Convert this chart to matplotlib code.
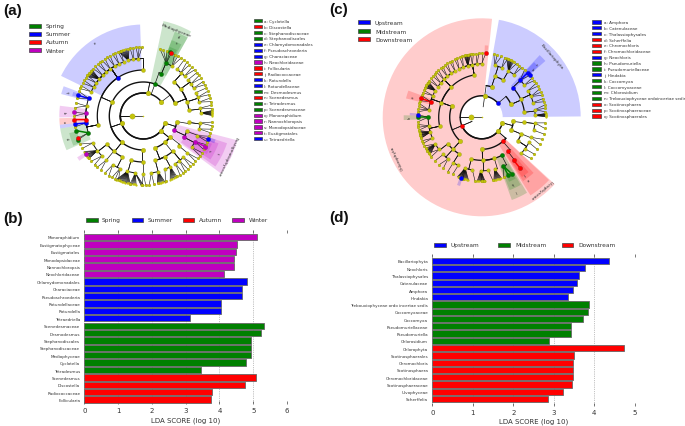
import matplotlib
matplotlib.use("Agg")
import matplotlib.pyplot as plt
from matplotlib.patches import Wedge, Rectangle
import numpy as np

W, H = 685, 427
SEASON = {"Spring": "#008000", "Summer": "#0000ff", "Autumn": "#ff0000", "Winter": "#bf00bf"}
G, B, R, P = "#008000", "#0000ff", "#ff0000", "#bf00bf"
YEL = "#c4c40c"
INK = "#111111"

# ---- bar data
names_b = ["Monoraphidium", "Eustigmatophyceae", "Eustigmatales", "Monodopsidaceae", "Nannochloropsis",
           "Neochloridaceae", "Chlamydomonadales", "Characiaceae", "Pseudoschroederia", "Rotundellaceae",
           "Rotundella", "Tetraedriella", "Scenedesmaceae", "Desmodesmus", "Stephanodiscales",
           "Stephanodiscaceae", "Mediophyceae", "Cyclotella", "Tetradesmus", "Scenedesmus", "Discostella",
           "Radiococcaceae", "Follicularia"]
vals_b = [5.11, 4.51, 4.49, 4.42, 4.42, 4.14, 4.81, 4.67, 4.67, 4.04, 4.04, 3.14, 5.31, 5.22, 4.93, 4.93, 4.93,
          4.79, 3.45, 5.07, 4.76, 3.77, 3.75]
cols_b = [P] * 6 + [B] * 6 + [G] * 7 + [R] * 4

names_d = ["Bacillariophyta", "Neochloris", "Thalassiophysales", "Catenulaceae", "Amphora", "Hindakia",
           "Trebouxiophyceae ordo incertae sedis", "Coccomyxaceae", "Coccomyxa", "Pseudomuriellaceae",
           "Pseudomuriella", "Chlorosidium", "Chlorophyta", "Scotinosphaerales", "Chromochloris", "Scotinosphaera",
           "Chromochloridaceae", "Scotinosphaeraceae", "Ulvophyceae", "Scherffelia"]
vals_d = [4.36, 3.77, 3.63, 3.57, 3.48, 3.36, 3.88, 3.85, 3.72, 3.42, 3.42, 2.89, 4.73, 3.50, 3.48, 3.48, 3.48,
          3.45, 3.24, 2.85]
cols_d = [B] * 6 + [G] * 6 + [R] * 8

# ---- side legends of the cladograms
keys_a = ["a: Cyclotella", "b: Discostella", "c: Stephanodiscaceae", "d: Stephanodiscales", "e: Chlamydomonadales",
          "f: Pseudoschroederia", "g: Characiaceae", "h: Neochloridaceae", "i: Follicularia", "j: Radiococcaceae",
          "k: Rotundella", "l: Rotundellaceae", "m: Desmodesmus", "n: Scenedesmus", "o: Tetradesmus",
          "p: Scenedesmaceae", "q: Monoraphidium", "r: Nannochloropsis", "s: Monodopsidaceae", "t: Eustigmatales",
          "u: Tetraedriella"]
keycols_a = [G, R, G, G, B, B, B, P, R, R, B, B, G, R, G, G, P, P, P, P, B]
keys_c = ["a: Amphora", "b: Catenulaceae", "c: Thalassiophysales", "d: Scherffelia", "e: Chromochloris",
          "f: Chromochloridaceae", "g: Neochloris", "h: Pseudomuriella", "i: Pseudomuriellaceae", "j: Hindakia",
          "k: Coccomyxa", "l: Coccomyxaceae", "m: Chlorosidium", "n: Trebouxiophyceae ordoincertae sedis",
          "o: Scotinosphaera", "p: Scotinosphaeraceae", "q: Scotinosphaerales"]
keycols_c = [B, B, B, R, R, R, B, G, G, B, G, G, G, G, R, R, R]

# ---- cladogram (a): node angles per ring, (angle, parent angle) for inner rings
radii_a = [11.5, 23, 34, 46, 57.5, 69]
a_l1 = [(180, 180)]
a_l2 = [(79, 180), (38, 180), (-18, 180), (-40, 180), (199, 180)]
a_l3 = [(70, 79), (156, 79), (156, 199), (22, 38), (22, 70), (-9.5, -18), (-25, -18), (-38, -40), (-51, -40), (231, 199),
        (269, 199), (-69, -40)]
a_l4 = [(66.8, 70), (48, 22), (36, 22), (18, 22), (7, 22), (-8, -9.5), (-19.5, -25), (-27.5, -25), (-40, -38), (-50, -51),
        (90, 156), (124, 156), (191, 156), (218, 231), (230, 231), (243, 231), (254.6, 269), (270, 269), (285, -69),
        (298, -69), (-50, -69)]
a_l5 = [66.4, 60, 54, 49, 44, 39, 34, 29, 24, 19, 14, 8, 3, -7, -13, -20, -26.4, -33, -40, -46, -51, -56, 298, 292, 285, 278,
        270, 262, 254, 246, 238, 230, 224, 217, 208, 197, 187, 183.6, 177.4, 170, 162.2, 155, 150, 145, 140, 135, 130, 125,
        120, 115, 110, 105, 100, 95]
a_l6 = [76, 73, 70, 67.5, 66, 63, 60, 57, 54, 51, 48, 45, 42, 39, 36, 33, 30, 27, 24, 21, 18, 15, 12, 9, 6,
        -5, -8, -11, -14, -17, -19.5, -22, -24.5, -26.3, -29, -32, -35, -38, -41, -44, -47, -50, -53,
        305, 302, 299, 289, 282, 279, 275, 272, 269, 259, 249, 246, 243, 240, 236, 232, 228, 225, 221, 218,
        213.5, 208, 204, 200, 198.8, 192.2, 189, 186.6, 183, 180, 177, 173, 169, 165, 162.4, 159, 156.5, 154, 151.5, 149, 146.5,
        144, 141.5, 139, 136.5, 134, 131.5, 129, 126.5, 124, 121.5, 119, 116.5, 114, 111.5, 109, 101, 98.5, 96, 93.5, 91]
a_fans = [(3, [4.5, 3.9, 3.3, 2.7, 2.1, 1.5, 0.9, 0.3]),
          (105, [111, 110, 109, 108, 107, 106, 105, 104, 103, 102]),
          (140, [145, 144, 143, 142, 141, 140, 139, 138]),
          (254, [259, 258, 257, 256, 255, 254, 253, 252, 251, 250, 249, 248, 247]),
          (262, [270, 269, 268, 264, 263, 262, 261, 260]),
          (285, [288, 287, 286, 285, 284, 283, 282]),
          (298, [298, 297, 296, 295, 294, 293]),
          (217, [218, 217, 216, 215, 214, 212, 211])]
a_hi = {(3, 70): G, (4, 66.8): G, (5, 66.4): G, (6, 66): R, (6, 67.5): G, (3, -25): P, (4, -27.5): P, (5, -26.4): P, (6, -26.3): P,
        (6, -19.5): B, (4, 124): B, (6, 162.4): B, (5, 162.2): B, (5, 177.4): P, (6, 183): R, (5, 183.6): R, (6, 186.6): B,
        (5, 187): B, (6, 192.2): G, (5, 197): G, (6, 200): G, (6, 198.8): R, (6, 213.5): P, (6, 177): P}
a_colored = [162.4, 183, 186.6, 192.2, -26.3]
a_wedges = [(92, 154, 46, 91.5, B), (60.5, 78, 34, 97, G), (60.5, 69.5, 46, 90, G), (62, 69.5, 57.5, 81, G),
            (63, 69, 68, 74, G), (-36.5, -14.5, 34, 97, P), (-35, -18, 46, 88, P), (-33, -20, 57.5, 80, P),
            (-31, -22, 68, 74, P), (-21, -18, 68, 76, B), (159.5, 165, 57.5, 85, B), (161, 164, 68, 74, B),
            (173, 181, 57.5, 84, P), (181.5, 186, 57.5, 84, R), (186, 188.5, 57.5, 84, B),
            (188.5, 204, 57.5, 84, G), (193, 203, 68, 76, G), (212, 215, 68, 78, P)]
a_letters = [(123, 88, "e"), (66, 87, "d"), (66, 80, "c"), (-26, 82, "t"), (-27, 74, "s"), (162, 78, "k"), (177, 78, "q"),
             (184, 78, "n"), (196, 78, "p")]
a_names = [(69, 92, "Mediophyceae"), (-25, 93, "Eustigmatophyceae")]

# ---- cladogram (c)
radii_c = [10.5, 21.5, 32, 43, 53.5, 64]
c_l1 = [(180, 180)]
c_l2 = [(82, 180), (40.6, 82), (-15, 203), (-41, 203), (203, 180)]
c_l3 = [(72, 82), (23.7, 40.6), (160, 203), (-7.4, -15), (-23, -15), (-48.8, -41), (271, -41), (228, 203)]
c_l4 = [(43.8, 23.7), (6.7, 23.7), (60, 72), (72, 72), (25, 23.7), (192, 160), (135, 160), (100, 160), (160, 160),
        (-6.7, -7.4), (-22.6, -23), (-33, -23), (-52.5, -48.8), (-62.4, 271), (256, 271), (287, 271), (272, 271),
        (228, 228), (218, 228), (238, 228)]
c_l5 = [76, 68, 60, 53, 44, 37, 30, 23, 16, 8, 2, -6, -14, -22, -28, -36, -42, -53.3, -66, 284, 277, 269, 260, 252, 244,
        238, 231, 224, 217, 210, 203, 196, 189, 180, 172, 163, 156, 150, 145, 140, 135, 130, 125, 120, 115, 110, 105, 100, 95, 90]
c_l6 = [86.4, 79, 76, 72, 69, 66, 63, 60, 57, 54, 51, 48, 44.2, 41, 38, 35, 32, 29, 26, 23, 20, 17, 14, 11, 8, 5,
        -5, -10, -15, -20, -25, -30, -35, -40, -53, -65.4, -62,
        290, 280, 272, 270, 264, 253, 251.2, 249, 243, 238, 233, 228, 223, 218, 214, 211.5, 209, 206.5, 204, 201.5, 199, 196.5,
        194, 191.5, 189, 186.5, 184, 180, 177.6, 175, 172.5, 170, 167.5, 165, 162.7, 160, 157.5, 155, 152.5, 150, 147.5, 145,
        142.5, 140, 137.5, 135, 132.5, 130, 127.5, 125, 122.5, 120, 117.5, 115, 112.5, 110, 107.5, 105, 102.5, 100, 97.5,
        95, 92.5, 90]
c_fans = [(2, [3.5, 3, 2.5, 2, 1.5, 1, 0.5]), (60, [67, 66, 65, 64, 63, 62, 61]), (105, [106, 105, 104, 103, 102, 101, 100]),
          (150, [152, 151, 150, 149, 148, 147, 146]), (196, [199, 198, 197, 196, 195, 194, 193, 192]),
          (210, [216, 215, 214, 213, 212, 211, 210]), (252, [258, 257, 256, 255, 254, 253, 252, 251, 250, 249, 248]),
          (269, [273, 272, 271, 270, 269, 268, 267, 266]), (284, [288, 287, 286, 285, 284, 283, 282, 281])]
c_hi = {(2, 203): R, (2, 40.6): B, (4, 43.8): B, (5, 44): B, (6, 44.2): B, (6, 41): B, (3, -48.8): R, (4, -52.5): R, (5, -53.3): R,
        (6, -53): R, (4, -62.4): G, (5, -66): G, (6, -65.4): G, (6, -62): G, (6, 251.2): B, (6, 86.4): R, (6, 162.7): R,
        (5, 163): R, (6, 177.6): B, (6, 180): G, (5, 180): G}
c_colored = [44.2, -53, -65.4, -62, 162.7, 180]
c_wedges = [(0.5, 80, 21, 99, B), (84, 317.5, 21, 99, R), (-58, -43, 32, 92, R), (-57, -47, 43, 76, R), (-56, -49.5, 53.5, 72, R),
            (-70, -59, 43, 88, G), (-69, -60, 53.5, 78, G), (-67, -61, 64, 70, G), (41.5, 47, 43, 85, B), (42, 46.5, 53.5, 76, B),
            (160, 166, 53.5, 78, R), (176.5, 178.5, 64, 72, B), (178.5, 182, 53.5, 78, G), (84.8, 87.5, 64, 72, R),
            (250, 252.5, 64, 72, B)]
c_letters = [(44, 70, "b"), (44, 76, "c"), (-53, 70, "f"), (-53, 76, "e"), (-65, 72, "k"), (-65, 80, "l"), (163, 72, "e"),
             (180, 72, "h")]
c_names = [(41, 93, "Bacillariophyta"), (205, 93, "Chlorophyta"), (-50, 93, "Ulvophyceae")]

fig = plt.figure(figsize=(W / 100, H / 100), dpi=100)
ov = fig.add_axes([0, 0, 1, 1])
ov.set_xlim(0, W)
ov.set_ylim(H, 0)
ov.axis("off")


def pt(cx, cy, r, a):
    t = np.deg2rad(a)
    return cx + r * np.cos(t), cy - r * np.sin(t)


def sdiff(a, b):
    return (b - a + 180) % 360 - 180


LW = {1: 0.8, 2: 1.05, 3: 1.0, 4: 0.9, 5: 0.7, 6: 0.4}
MS = {1: 3.9, 2: 3.5, 3: 3.3, 4: 3.0, 5: 2.6, 6: 2.1}


def edge(cx, cy, rp, rc, ap, ac, lvl, col):
    """radial step from the parent, then an arc on the child's ring"""
    x0, y0 = pt(cx, cy, rp, ap)
    x1, y1 = pt(cx, cy, rc, ap)
    n = max(2, int(abs(sdiff(ap, ac))) + 2)
    aa = np.linspace(ap, ap + sdiff(ap, ac), n)
    xs, ys = pt(cx, cy, rc, aa)
    ov.plot([x0, x1], [y0, y1], color=col, lw=0.5, zorder=3, solid_capstyle="round")
    ov.plot(xs, ys, color=col, lw=LW[lvl], zorder=3, solid_capstyle="round")


def draw_clado(cx, cy, radii, inner, l5, l6, fans, hi, colored, wedges, letters, tnames):
    for a0, a1, r0, r1, c in wedges:
        ov.add_patch(Wedge((cx, cy), r1, -a1, -a0, width=r1 - r0, facecolor=c, alpha=0.2, lw=0, zorder=1))
    nodes = {}
    for lvl, rows in enumerate(inner, start=1):
        for a, ap in rows:
            rp = radii[lvl - 2] if lvl > 1 else 0
            edge(cx, cy, rp, radii[lvl - 1], ap, a, lvl, INK)
            nodes[(lvl, a)] = 1
    l4 = [a for a, _ in inner[3]]
    for a in l5:
        ap = min(l4, key=lambda q: abs(sdiff(q, a)))
        edge(cx, cy, radii[3], radii[4], ap, a, 5, INK)
        nodes[(5, a)] = 1
    for a in l6:
        ap = min(l5, key=lambda q: abs(sdiff(q, a)))
        x0, y0 = pt(cx, cy, radii[4], ap)
        x1, y1 = pt(cx, cy, radii[5], a)
        strong = a in colored
        ov.plot([x0, x1], [y0, y1], color=hi[(6, a)] if strong else INK, lw=1.1 if strong else 0.4, zorder=3)
        nodes[(6, a)] = 1
    for ap, leaves in fans:
        ap = min(l5, key=lambda q: abs(sdiff(q, ap)))
        x0, y0 = pt(cx, cy, radii[4], ap)
        for a in leaves:
            x1, y1 = pt(cx, cy, radii[5], a)
            ov.plot([x0, x1], [y0, y1], color="#111111", lw=0.5, zorder=3)
            ov.plot([x1], [y1], "o", ms=1.6, color=YEL, mew=0, zorder=4)
    for (lvl, a) in nodes:
        x, y = pt(cx, cy, radii[lvl - 1], a)
        c = hi.get((lvl, a))
        ov.plot([x], [y], "o", ms=(3.2 if c else MS[lvl]), mfc=c or YEL, mec="#555500" if not c else "#222222",
                mew=0.1, zorder=6 if c else 5)
    ov.plot([cx], [cy], "o", ms=1.1, color=YEL, mew=0, zorder=5)
    for a, r, t in letters:
        x, y = pt(cx, cy, r, a)
        ov.text(x, y, t, fontsize=2.6, ha="center", va="center", color="#222222", rotation=a - 90, zorder=7)
    for a, r, t in tnames:
        x, y = pt(cx, cy, r, a)
        ov.text(x, y, t, fontsize=3.2, ha="center", va="center", color="#333333", rotation=a - 90,
                rotation_mode="anchor", zorder=7)


draw_clado(143.3, 117, radii_a, [a_l1, a_l2, a_l3, a_l4], a_l5, a_l6, a_fans, a_hi, a_colored, a_wedges, a_letters, a_names)
draw_clado(481.7, 118.3, radii_c, [c_l1, c_l2, c_l3, c_l4], c_l5, c_l6, c_fans, c_hi, c_colored, c_wedges, c_letters, c_names)


def key(x0, x1, y, h, col, label, tx, fs):
    ov.add_patch(Rectangle((x0, y - h / 2), x1 - x0, h, facecolor=col, edgecolor="#444444", lw=0.5, zorder=8))
    ov.text(tx, y, label, fontsize=fs, ha="left", va="center", color="#333333", zorder=8)


for y, n in zip([26.7, 35, 43, 51.3], SEASON):
    key(29, 40.7, y, 4.0, SEASON[n], n, 46, 4.2)
for y, n, c in zip([23, 32, 40.3], ["Upstream", "Midstream", "Downstream"], [B, G, R]):
    key(358.3, 370, y, 4.0, c, n, 375, 4.2)
for i, (t, c) in enumerate(zip(keys_a, keycols_a)):
    key(253.7, 262, 21.7 + 5.9 * i, 3.2, c, t, 264.3, 3.0)
for i, (t, c) in enumerate(zip(keys_c, keycols_c)):
    key(592, 601, 22.9 + 5.88 * i, 3.2, c, t, 603.7, 3.0)
for (x0, tx), n in zip([(86, 101.7), (131.7, 147.7), (182.7, 198.7), (232, 248.3)], SEASON):
    key(x0, x0 + 11.8, 221, 4.0, SEASON[n], n, tx, 4.2)
for (x0, tx), n, c in zip([(434.3, 450.7), (498.3, 515), (561.7, 578)], ["Upstream", "Midstream", "Downstream"], [B, G, R]):
    key(x0, x0 + 11.8, 246, 4.0, c, n, tx, 4.2)

for t, x, y in [("(a)", 3, 10.5), ("(b)", 3, 219), ("(c)", 329, 10), ("(d)", 329, 218)]:
    ov.text(x, y, t, fontsize=11, fontweight="bold", family="Liberation Sans", ha="left", va="center", color="#111111")


def bars(x0, x1, ytop, ybot, y0, dy, names, vals, cols, xmax):
    ax = fig.add_axes([x0 / W, 1 - ybot / H, (x1 - x0) / W, (ybot - ytop) / H])
    pos = np.arange(len(names))
    ax.barh(pos, vals, height=0.86, color=cols, edgecolor="#666666", lw=0.6, zorder=3)
    ax.set_xlim(0, xmax)
    ax.set_ylim((ybot - y0) / dy, (ytop - y0) / dy)
    ax.set_yticks(pos, names, fontsize=3.0, color="#333333")
    ax.set_xticks(range(xmax + 1))
    ax.tick_params(axis="y", length=0, pad=3)
    ax.tick_params(axis="x", top=True, bottom=True, direction="in", length=2, width=0.5, labelsize=5.0,
                   pad=2.5, labelcolor="#333333", color="#444444")
    ax.grid(axis="x", linestyle=":", color="#888888", lw=0.5, zorder=0)
    for s in ax.spines.values():
        s.set_visible(False)
    ax.set_xlabel("LDA SCORE (log 10)", fontsize=5.0, color="#333333", labelpad=2)
    ax.patch.set_alpha(0)


bars(84.3, 287, 230.7, 405, 238, 7.39, names_b, vals_b, cols_b, 6)
bars(432.3, 634.7, 255.3, 406.7, 262, 7.26, names_d, vals_d, cols_d, 5)

fig.savefig("out.png", dpi=100)
